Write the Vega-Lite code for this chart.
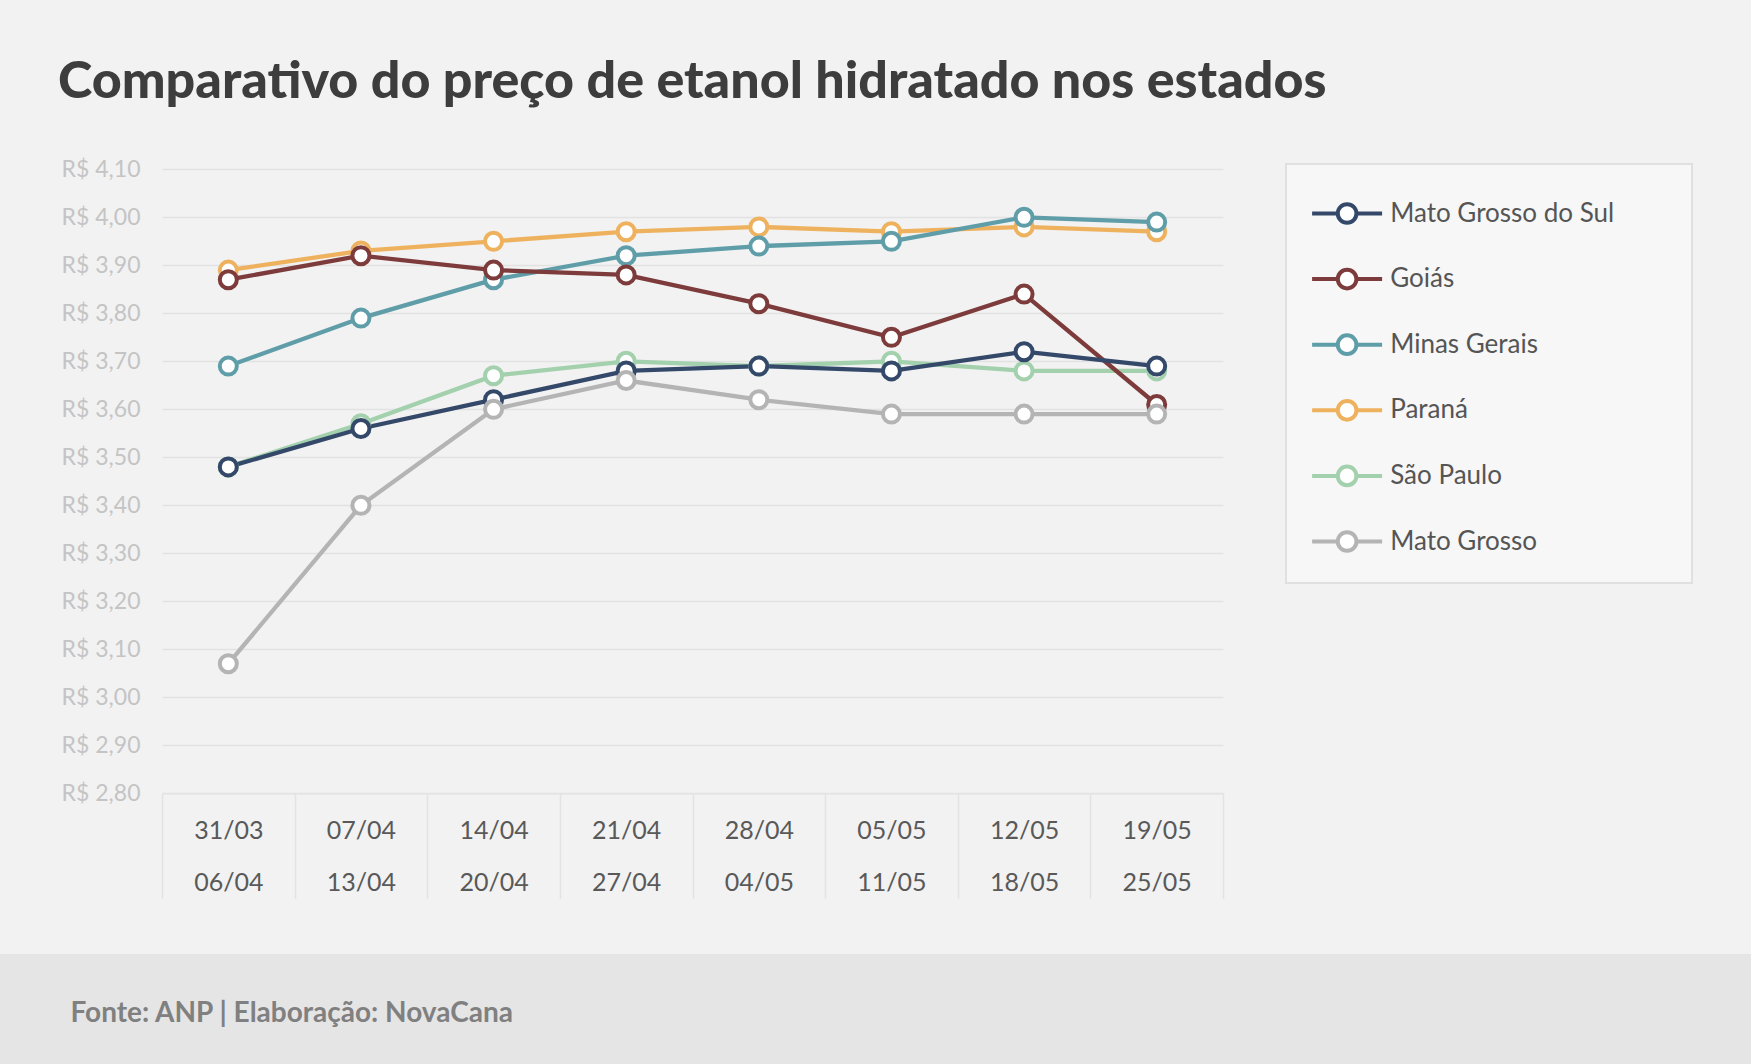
{
  "$schema": "https://vega.github.io/schema/vega-lite/v6.json",
  "width": 1751,
  "height": 1064,
  "autosize": {"type": "none"},
  "padding": 0,
  "background": "#f2f2f2",
  "config": {"view": {"stroke": null}},
  "title": {
    "text": "Comparativo do preço de etanol hidratado nos estados",
    "anchor": "start",
    "frame": "group",
    "font": "Lato",
    "fontSize": 52,
    "fontWeight": 900,
    "color": "#3d3d3d",
    "baseline": "alphabetic",
    "offset": -150,
    "dx": 58
  },
  "datasets": {
    "precos": [
      {"semana": "31/03|06/04", "estado": "Paraná", "preco": 3.89},
      {"semana": "07/04|13/04", "estado": "Paraná", "preco": 3.93},
      {"semana": "14/04|20/04", "estado": "Paraná", "preco": 3.95},
      {"semana": "21/04|27/04", "estado": "Paraná", "preco": 3.97},
      {"semana": "28/04|04/05", "estado": "Paraná", "preco": 3.98},
      {"semana": "05/05|11/05", "estado": "Paraná", "preco": 3.97},
      {"semana": "12/05|18/05", "estado": "Paraná", "preco": 3.98},
      {"semana": "19/05|25/05", "estado": "Paraná", "preco": 3.97},
      {"semana": "31/03|06/04", "estado": "São Paulo", "preco": 3.48},
      {"semana": "07/04|13/04", "estado": "São Paulo", "preco": 3.57},
      {"semana": "14/04|20/04", "estado": "São Paulo", "preco": 3.67},
      {"semana": "21/04|27/04", "estado": "São Paulo", "preco": 3.70},
      {"semana": "28/04|04/05", "estado": "São Paulo", "preco": 3.69},
      {"semana": "05/05|11/05", "estado": "São Paulo", "preco": 3.70},
      {"semana": "12/05|18/05", "estado": "São Paulo", "preco": 3.68},
      {"semana": "19/05|25/05", "estado": "São Paulo", "preco": 3.68},
      {"semana": "31/03|06/04", "estado": "Minas Gerais", "preco": 3.69},
      {"semana": "07/04|13/04", "estado": "Minas Gerais", "preco": 3.79},
      {"semana": "14/04|20/04", "estado": "Minas Gerais", "preco": 3.87},
      {"semana": "21/04|27/04", "estado": "Minas Gerais", "preco": 3.92},
      {"semana": "28/04|04/05", "estado": "Minas Gerais", "preco": 3.94},
      {"semana": "05/05|11/05", "estado": "Minas Gerais", "preco": 3.95},
      {"semana": "12/05|18/05", "estado": "Minas Gerais", "preco": 4.00},
      {"semana": "19/05|25/05", "estado": "Minas Gerais", "preco": 3.99},
      {"semana": "31/03|06/04", "estado": "Goiás", "preco": 3.87},
      {"semana": "07/04|13/04", "estado": "Goiás", "preco": 3.92},
      {"semana": "14/04|20/04", "estado": "Goiás", "preco": 3.89},
      {"semana": "21/04|27/04", "estado": "Goiás", "preco": 3.88},
      {"semana": "28/04|04/05", "estado": "Goiás", "preco": 3.82},
      {"semana": "05/05|11/05", "estado": "Goiás", "preco": 3.75},
      {"semana": "12/05|18/05", "estado": "Goiás", "preco": 3.84},
      {"semana": "19/05|25/05", "estado": "Goiás", "preco": 3.61},
      {"semana": "31/03|06/04", "estado": "Mato Grosso do Sul", "preco": 3.48},
      {"semana": "07/04|13/04", "estado": "Mato Grosso do Sul", "preco": 3.56},
      {"semana": "14/04|20/04", "estado": "Mato Grosso do Sul", "preco": 3.62},
      {"semana": "21/04|27/04", "estado": "Mato Grosso do Sul", "preco": 3.68},
      {"semana": "28/04|04/05", "estado": "Mato Grosso do Sul", "preco": 3.69},
      {"semana": "05/05|11/05", "estado": "Mato Grosso do Sul", "preco": 3.68},
      {"semana": "12/05|18/05", "estado": "Mato Grosso do Sul", "preco": 3.72},
      {"semana": "19/05|25/05", "estado": "Mato Grosso do Sul", "preco": 3.69},
      {"semana": "31/03|06/04", "estado": "Mato Grosso", "preco": 3.07},
      {"semana": "07/04|13/04", "estado": "Mato Grosso", "preco": 3.40},
      {"semana": "14/04|20/04", "estado": "Mato Grosso", "preco": 3.60},
      {"semana": "21/04|27/04", "estado": "Mato Grosso", "preco": 3.66},
      {"semana": "28/04|04/05", "estado": "Mato Grosso", "preco": 3.62},
      {"semana": "05/05|11/05", "estado": "Mato Grosso", "preco": 3.59},
      {"semana": "12/05|18/05", "estado": "Mato Grosso", "preco": 3.59},
      {"semana": "19/05|25/05", "estado": "Mato Grosso", "preco": 3.59}
    ]
  },
  "layer": [
    {
      "data": {"values": [{"faixa": "rodapé"}]},
      "mark": {"type": "rect", "fill": "#e5e5e5"},
      "encoding": {
        "y": {"datum": 2.465, "type": "quantitative"},
        "y2": {"datum": 2.0}
      }
    },
    {
      "data": {"name": "precos"},
      "mark": {"type": "line", "strokeWidth": 4.3},
      "encoding": {
        "x": {
          "field": "semana",
          "type": "ordinal",
          "sort": ["31/03|06/04", "07/04|13/04", "14/04|20/04", "21/04|27/04", "28/04|04/05", "05/05|11/05", "12/05|18/05", "19/05|25/05"],
          "scale": {"type": "band", "range": [162, 1223], "paddingInner": 0, "paddingOuter": 0},
          "axis": {
            "title": "Fonte: ANP | Elaboração: NovaCana",
            "orient": "bottom",
            "offset": -270.7,
            "zindex": 1,
            "grid": false,
            "domainColor": "#e3e3e3",
            "domainWidth": 1.5,
            "tickBand": "extent",
            "tickColor": "#e3e3e3",
            "tickWidth": 1.5,
            "tickSize": 105,
            "labelExpr": "split(datum.label, '|')",
            "labelFont": "Lato",
            "labelFontSize": 25,
            "labelColor": "#595959",
            "labelLineHeight": 52,
            "labelBaseline": "middle",
            "labelPadding": -68,
            "labelAngle": 0,
            "labelOverlap": false,
            "titleFont": "Lato",
            "titleFontWeight": "bold",
            "titleFontSize": 28,
            "titleColor": "#808080",
            "titleX": 70,
            "titleY": 228,
            "titleAlign": "left",
            "titleAnchor": "start",
            "titleBaseline": "alphabetic",
            "titleAngle": 0
          }
        },
        "y": {
          "field": "preco",
          "type": "quantitative",
          "scale": {"domain": [2.8, 4.1], "range": [793.3, 169.3], "nice": false, "zero": false},
          "axis": {
            "title": null,
            "orient": "left",
            "offset": -162,
            "values": [2.8, 2.9, 3.0, 3.1, 3.2, 3.3, 3.4, 3.5, 3.6, 3.7, 3.8, 3.9, 4.0, 4.1],
            "labelExpr": "'R$ ' + replace(format(datum.value, '.2f'), '.', ',')",
            "labelFont": "Lato",
            "labelFontSize": 23,
            "labelColor": "#c4c4c4",
            "labelPadding": 22,
            "labelOverlap": false,
            "labelFlush": false,
            "ticks": false,
            "domain": false,
            "grid": true,
            "gridColor": "#e2e2e2",
            "gridWidth": 1.5,
            "zindex": 0
          }
        },
        "color": {
          "field": "estado",
          "type": "nominal",
          "scale": {
            "domain": ["Mato Grosso do Sul", "Goiás", "Minas Gerais", "Paraná", "São Paulo", "Mato Grosso"],
            "range": ["#34496a", "#7d3b3b", "#5f9ea8", "#eeb25f", "#a3d0ad", "#b4b4b4"]
          },
          "legend": {
            "orient": "none",
            "legendX": 1286,
            "legendY": 164,
            "title": null,
            "fillColor": "#f7f7f7",
            "strokeColor": "#e0e0e0",
            "padding": 24,
            "symbolType": "M-1.5,0L-0.4,0M0.4,0L1.5,0M-0.4,0A0.4,0.4,0,1,1,0.4,0A0.4,0.4,0,1,1,-0.4,0Z",
            "symbolSize": 2178,
            "symbolStrokeWidth": 4,
            "symbolOffset": 11.6,
            "labelFont": "Lato",
            "labelFontSize": 26,
            "labelColor": "#555555",
            "labelOffset": 17.6,
            "labelLimit": 500,
            "rowPadding": 22.6,
            "labelExpr": "datum.label + '\u00a0\u00a0\u00a0\u00a0\u00a0\u00a0\u00a0\u00a0\u200b'",
            "encode": {
              "symbols": {"update": {"fill": {"value": "#ffffff"}, "strokeWidth": {"value": 4}, "opacity": {"value": 1}}},
              "legend": {"update": {"strokeWidth": {"value": 2}}}
            }
          }
        }
      }
    },
    {
      "data": {"name": "precos"},
      "mark": {"type": "point", "shape": "circle", "filled": false, "fill": "#ffffff", "size": 290, "strokeWidth": 4, "opacity": 1},
      "encoding": {
        "x": {"field": "semana", "type": "ordinal", "sort": ["31/03|06/04", "07/04|13/04", "14/04|20/04", "21/04|27/04", "28/04|04/05", "05/05|11/05", "12/05|18/05", "19/05|25/05"]},
        "y": {"field": "preco", "type": "quantitative"},
        "color": {"field": "estado", "type": "nominal", "legend": null}
      }
    }
  ]
}
